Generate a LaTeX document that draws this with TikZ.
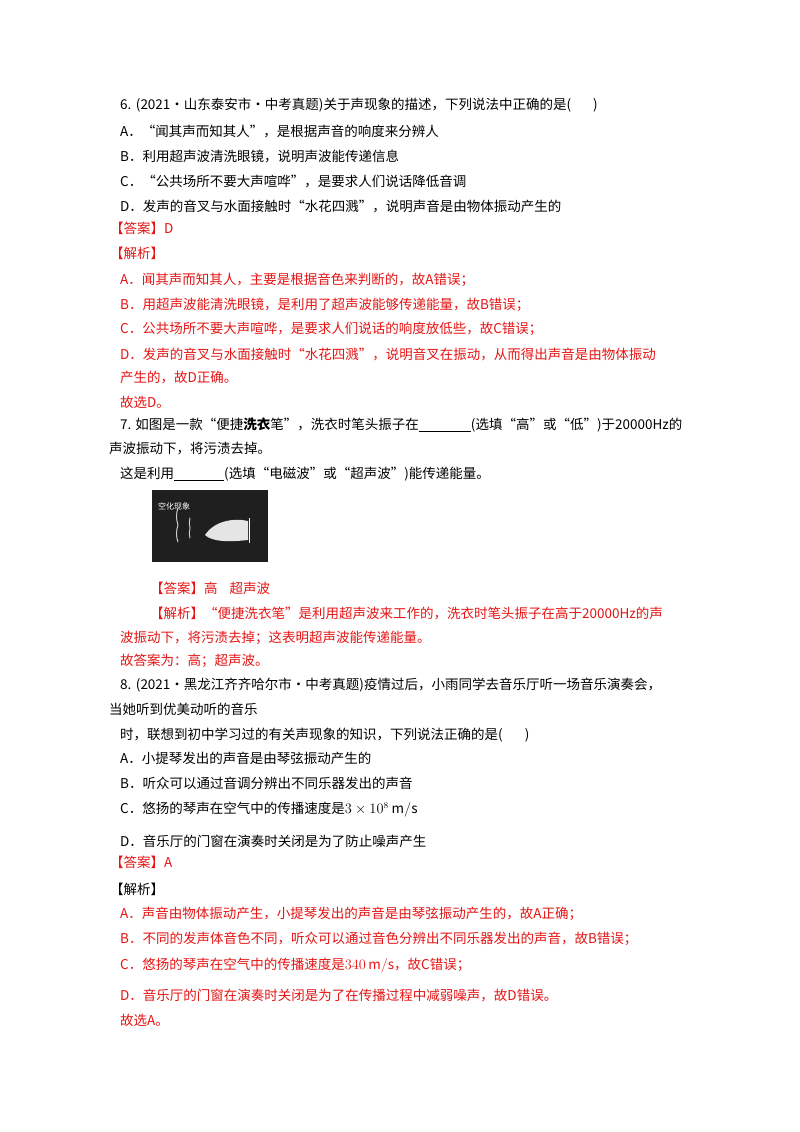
\documentclass[tikz,border=0pt]{standalone}
\usepackage{fontspec}
\setmainfont{Noto Sans CJK SC}
\newfontfamily\lat{Liberation Serif}
\definecolor{ans}{RGB}{230,20,20}
\begin{document}
\begin{tikzpicture}[x=1pt,y=-1pt,
 t/.style={anchor=west,inner sep=0pt,font=\fontsize{13.5}{15}\selectfont},
 r/.style={t,text=ans},
 blank/.style={}]
\useasboundingbox[fill=white] (0,0) rectangle (800,1132);
\node[t] (q6) at (120,105) {6.\,\,(2021·山东泰安市·中考真题)关于声现象的描述，下列说法中正确的是(\hspace{22pt})};
\node[t] (q6a) at (120,131) {A．“闻其声而知其人”，是根据声音的响度来分辨人};
\node[t] (q6b) at (120,156) {B．利用超声波清洗眼镜，说明声波能传递信息};
\node[t] (q6c) at (120,181) {C．“公共场所不要大声喧哗”，是要求人们说话降低音调};
\node[t] (q6d) at (120,206) {D．发声的音叉与水面接触时“水花四溅”，说明声音是由物体振动产生的};
\node[r] (a6) at (110,228) {【答案】D};
\node[r] (j6) at (110,253) {【解析】};
\node[r] (j6a) at (120,280) {A．闻其声而知其人，主要是根据音色来判断的，故A错误；};
\node[r] (j6b) at (120,305) {B．用超声波能清洗眼镜，是利用了超声波能够传递能量，故B错误；};
\node[r] (j6c) at (120,329) {C．公共场所不要大声喧哗，是要求人们说话的响度放低些，故C错误；};
\node[r] (j6d) at (120,354) {D．发声的音叉与水面接触时“水花四溅”，说明音叉在振动，从而得出声音是由物体振动};
\node[r] (j6e) at (120,378) {产生的，故D正确。};
\node[r] (j6f) at (120,402) {故选D。};
\node[t] (q7) at (120,425) {7. 如图是一款“便捷{\bfseries 洗衣}笔”，洗衣时笔头振子在\underline{\hspace{52pt}}(选填“高”或“低”)于20000Hz的};
\node[t] (q7b) at (109,449) {声波振动下，将污渍去掉。};
\node[t] (q7c) at (120,474) {这是利用\underline{\hspace{50pt}}(选填“电磁波”或“超声波”)能传递能量。};
\fill[black!88] (152,490) rectangle (268,562);
\node[anchor=west,inner sep=0pt,text=white,font=\fontsize{8}{9}\selectfont] (img) at (158,506) {空化现象};
\draw[white!80!black,line width=1pt] (178,525) arc (200:160:25) (178,525) arc (160:200:25);
\draw[white!80!black,line width=1pt] (190,528) arc (195:165:20) (190,528) arc (165:195:20);
\fill[white!90!black] (205,535) .. controls (215,520) and (235,518) .. (248,521) -- (248,540) .. controls (230,542) and (212,542) .. (205,535) -- cycle;
\draw[white,line width=1pt] (249,518) -- (249,543);
\node[r] (a7) at (150,588) {【答案】高\hspace{12pt}超声波};
\node[r] (j7) at (150,613) {【解析】“便捷洗衣笔”是利用超声波来工作的，洗衣时笔头振子在高于20000Hz的声};
\node[r] (j7b) at (120,638) {波振动下，将污渍去掉；这表明超声波能传递能量。};
\node[r] (j7c) at (120,661) {故答案为：高；超声波。};
\node[t] (q8) at (120,685) {8.\,\,(2021·黑龙江齐齐哈尔市·中考真题)疫情过后，小雨同学去音乐厅听一场音乐演奏会，};
\node[t] (q8b) at (109,709) {当她听到优美动听的音乐};
\node[t] (q8c) at (120,735) {时，联想到初中学习过的有关声现象的知识，下列说法正确的是(\hspace{22pt})};
\node[t] (q8a1) at (120,758) {A．小提琴发出的声音是由琴弦振动产生的};
\node[t] (q8a2) at (120,783) {B．听众可以通过音调分辨出不同乐器发出的声音};
\node[t] (q8a3) at (120,810) {C．悠扬的琴声在空气中的传播速度是$3\times10^{8}\ \mathrm{m/s}$};
\node[t] (q8a4) at (120,841) {D．音乐厅的门窗在演奏时关闭是为了防止噪声产生};
\node[r] (a8) at (110,862) {【答案】A};
\node[t] (j8) at (110,889) {【解析】};
\node[r] (j8a) at (120,914) {A．声音由物体振动产生，小提琴发出的声音是由琴弦振动产生的，故A正确；};
\node[r] (j8b) at (120,939) {B．不同的发声体音色不同，听众可以通过音色分辨出不同乐器发出的声音，故B错误；};
\node[r] (j8c) at (120,966) {C．悠扬的琴声在空气中的传播速度是$340\,\mathrm{m/s}$，故C错误；};
\node[r] (j8d) at (120,995) {D．音乐厅的门窗在演奏时关闭是为了在传播过程中减弱噪声，故D错误。};
\node[r] (j8e) at (120,1020) {故选A。};
\end{tikzpicture}
\end{document}
